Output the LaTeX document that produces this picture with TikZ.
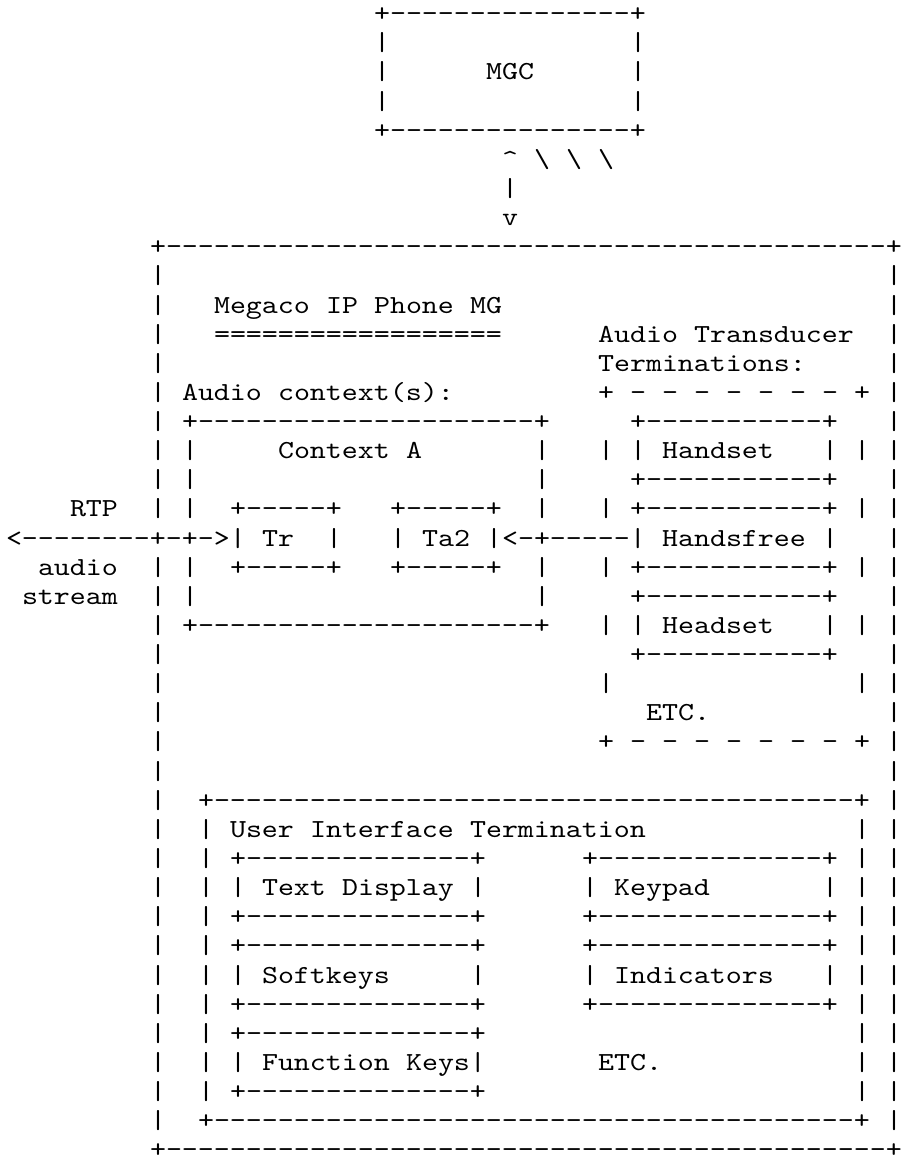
\documentclass[tikz,border=0pt]{standalone}
\usepackage{fontspec}
\newfontfamily\asc{lmmono10-regular.otf}[FakeStretch=1.172,Ligatures=TeXOff]
\ExplSyntaxOn
\cs_new_eq:NN \Rep \prg_replicate:nn
\ExplSyntaxOff
\newcommand\bx[1]{+\Rep{#1}{-}+}
\tikzset{asc/.style={anchor=base west, inner sep=0pt, outer sep=0pt,
  font=\asc\fontsize{26pt}{29pt}\selectfont, text=black}}
\newcommand\at[3]{\node[asc] (r#2c#1) at ({6+16*(#1)},{-21.7-29.13*((#2)-1)}) {#3};}
\begin{document}
\begin{tikzpicture}[x=1pt,y=1pt]
\useasboundingbox (0,0) rectangle (905,-1164);
\fill[white] (0,0) rectangle (905,-1164);
% MGC
\at{23}{1}{\bx{15}}
\at{23}{2}{|}\at{39}{2}{|}
\at{23}{3}{|}\at{30}{3}{MGC}\at{39}{3}{|}
\at{23}{4}{|}\at{39}{4}{|}
\at{23}{5}{\bx{15}}
\at{31}{6}{\textasciicircum}\at{33}{6}{\textbackslash}\at{35}{6}{\textbackslash}\at{37}{6}{\textbackslash}
\at{31}{7}{|}
\at{31}{8}{v}
% main box
\at{9}{9}{\bx{45}}
\foreach \r in {10,...,18,20,21,...,39}{\at{9}{\r}{|}}
\foreach \r in {10,...,39}{\at{55}{\r}{|}}
\at{9}{40}{\bx{45}}
% header
\at{13}{11}{Megaco}\at{20}{11}{IP}\at{23}{11}{Phone}\at{29}{11}{MG}
\at{13}{12}{\Rep{18}{=}}
\at{37}{12}{Audio}\at{43}{12}{Transducer}
\at{37}{13}{Terminations:}
\at{11}{14}{Audio}\at{17}{14}{context(s):}
% dashed transducer group
\foreach \r in {14,26}{
  \at{37}{\r}{+}\at{53}{\r}{+}
  \foreach \c in {39,41,...,51}{\at{\c}{\r}{-}}
}
\foreach \r in {16,18,20,22,24}{\at{37}{\r}{|}\at{53}{\r}{|}}
% context A
\at{11}{15}{\bx{21}}
\foreach \r in {16,17,18,20,21}{\at{11}{\r}{|}\at{33}{\r}{|}}
\at{11}{22}{\bx{21}}
\at{17}{16}{Context}\at{25}{16}{A}
\at{14}{18}{\bx{5}}\at{24}{18}{\bx{5}}
\at{14}{20}{\bx{5}}\at{24}{20}{\bx{5}}
\at{16}{19}{Tr}\at{20}{19}{|}\at{24}{19}{|}\at{26}{19}{Ta2}
% RTP side
\at{4}{18}{RTP}
\at{2}{20}{audio}
\at{1}{21}{stream}
\at{0}{19}{<\Rep{8}{-}+-+->|}
\at{30}{19}{|<-+\Rep{5}{-}|}
% transducers
\at{39}{15}{\bx{11}}\at{39}{17}{\bx{11}}
\at{39}{16}{|}\at{41}{16}{Handset}\at{51}{16}{|}
\at{39}{18}{\bx{11}}\at{39}{20}{\bx{11}}
\at{41}{19}{Handsfree}\at{51}{19}{|}
\at{39}{21}{\bx{11}}\at{39}{23}{\bx{11}}
\at{39}{22}{|}\at{41}{22}{Headset}\at{51}{22}{|}
\at{40}{25}{ETC.}
% user interface
\at{12}{28}{\bx{40}}
\foreach \r in {29,...,38}{\at{12}{\r}{|}\at{53}{\r}{|}}
\at{12}{39}{\bx{40}}
\at{14}{29}{User}\at{19}{29}{Interface}\at{29}{29}{Termination}
\foreach \r in {30,32,33,35}{\at{14}{\r}{\bx{14}}\at{36}{\r}{\bx{14}}}
\at{14}{36}{\bx{14}}\at{14}{38}{\bx{14}}
\foreach \r in {31,34,37}{\at{14}{\r}{|}}
\foreach \r in {31,34}{\at{29}{\r}{|}\at{36}{\r}{|}\at{51}{\r}{|}}
\at{16}{31}{Text}\at{21}{31}{Display}\at{38}{31}{Keypad}
\at{16}{34}{Softkeys}\at{38}{34}{Indicators}
\at{16}{37}{Function}\at{25}{37}{Keys|}
\at{37}{37}{ETC.}
\end{tikzpicture}
\end{document}
